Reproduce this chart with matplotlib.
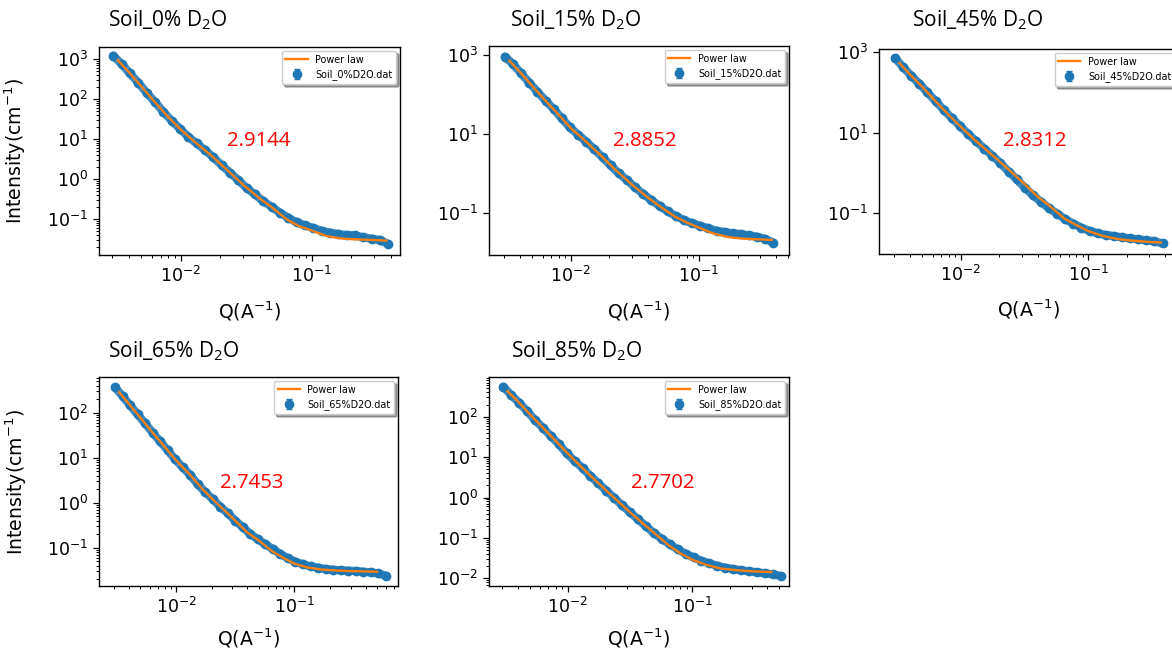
import numpy as np
import matplotlib.pyplot as plt
from matplotlib.ticker import LogLocator, NullFormatter, NullLocator

# scattering vector (1/A), shared by the five data sets
Q = [0.003044, 0.003524, 0.004080, 0.004723, 0.005468, 0.006330, 0.007329,
     0.008484, 0.009822, 0.01137, 0.01316, 0.01524, 0.01764, 0.02043,
     0.02365, 0.02738, 0.03170, 0.03670, 0.04248, 0.04918, 0.05694,
     0.06592, 0.07631, 0.08835, 0.1023, 0.1184, 0.1371, 0.1587, 0.1838,
     0.2127, 0.2463, 0.2851, 0.3301, 0.3821, 0.4424, 0.5122, 0.5929]

# measured intensity (1/cm)
I_0 = [1211, 750, 438, 256, 144, 84.1, 48.2, 28.7, 18.1, 11.4, 7.79, 5.31,
       3.48, 2.24, 1.44, 0.944, 0.596, 0.414, 0.277, 0.203, 0.144, 0.108,
       0.0825, 0.0695, 0.0596, 0.0511, 0.0455, 0.0422, 0.0398, 0.0391,
       0.0348, 0.0322, 0.0299, 0.0237]
I_15 = [908, 592, 343, 199, 117, 69.4, 42.6, 24.5, 14.6, 9.51, 6.32, 4.04,
        2.53, 1.58, 0.993, 0.673, 0.438, 0.297, 0.209, 0.147, 0.108, 0.0820,
        0.0650, 0.0535, 0.0467, 0.0399, 0.0348, 0.0322, 0.0298, 0.0286,
        0.0265, 0.0245, 0.0214, 0.0173]
I_45 = [723, 430, 262, 165, 100, 60.9, 36.9, 22.9, 14.7, 9.28, 6.09, 3.99,
        2.67, 1.72, 1.06, 0.683, 0.423, 0.272, 0.185, 0.128, 0.0946, 0.0682,
        0.0532, 0.0423, 0.0349, 0.0305, 0.0277, 0.0261, 0.0242, 0.0228,
        0.0216, 0.0204, 0.0192, 0.0171]
I_65 = [366, 235, 146, 92.0, 58.1, 36.0, 23.1, 14.6, 9.20, 6.11, 4.13, 2.56,
        1.73, 1.19, 0.817, 0.581, 0.399, 0.284, 0.202, 0.153, 0.119, 0.0935,
        0.0725, 0.0581, 0.0490, 0.0427, 0.0385, 0.0360, 0.0336, 0.0325,
        0.0314, 0.0309, 0.0304, 0.0293, 0.0284, 0.0269, 0.0239]
I_85 = [554, 344, 222, 138, 82.8, 53.5, 33.3, 21.1, 12.4, 8.01, 5.37, 3.41,
        2.24, 1.48, 0.972, 0.640, 0.430, 0.288, 0.193, 0.132, 0.0939, 0.0693,
        0.0521, 0.0407, 0.0330, 0.0273, 0.0235, 0.0205, 0.0183, 0.0170,
        0.0157, 0.0149, 0.0141, 0.0133, 0.0125, 0.0114]

# power law fit curves
QF = [0.0033, 0.004, 0.005, 0.0065, 0.008, 0.01, 0.013, 0.017, 0.022, 0.03,
      0.04, 0.05, 0.065, 0.08, 0.1, 0.13, 0.17, 0.22, 0.3, 0.37, 0.43, 0.5]
F_0 = [933, 473, 204, 75.9, 35.5, 17.0, 8.04, 3.89, 1.80, 0.708, 0.324,
       0.190, 0.0955, 0.0661, 0.0513, 0.0372, 0.0324, 0.0309, 0.0299, 0.0288]
F_15 = [713, 370, 162, 63.1, 30.7, 13.8, 6.53, 2.88, 1.26, 0.513, 0.240,
        0.141, 0.0794, 0.0562, 0.0417, 0.0295, 0.0240, 0.0219, 0.0209, 0.0204]
F_45 = [540, 281, 136, 55.3, 27.8, 13.8, 6.31, 3.02, 1.48, 0.603, 0.251,
        0.145, 0.0708, 0.0495, 0.0347, 0.0263, 0.0219, 0.0200, 0.0186, 0.0180]
F_65 = [285, 156, 76.9, 33.1, 17.6, 8.71, 4.27, 1.92, 0.986, 0.459, 0.219,
        0.145, 0.0832, 0.0603, 0.0442, 0.0363, 0.0327, 0.0313, 0.0302, 0.0299,
        0.0295, 0.0293]
F_85 = [424, 237, 113, 49.0, 25.4, 12.3, 5.56, 2.51, 1.20, 0.499, 0.229,
        0.129, 0.0646, 0.0417, 0.0288, 0.0214, 0.0174, 0.0160, 0.0149, 0.0145,
        0.0143]

D2O = ["0%", "15%", "45%", "65%", "85%"]
EXPONENTS = ["2.9144", "2.8852", "2.8312", "2.7453", "2.7702"]
DATA = [I_0, I_15, I_45, I_65, I_85]
FITS = [F_0, F_15, F_45, F_65, F_85]

W, H = 1172, 651
BLUE = "#1f77b4"
ORANGE = "#ff7f0e"

# layout in pixels: axes box, limits, y decades, title and number anchors
boxes = [(99, 47, 400, 255), (489, 46, 789, 255), (879, 49, 1179, 254),
         (99, 377, 398, 586), (489, 377, 789, 586)]
xlims = [(0.00237, 0.47), (0.00229, 0.505), (0.00228, 0.514),
         (0.00223, 0.753), (0.00234, 0.596)]
ylims = [(0.0126, 1995), (0.00843, 1692), (0.0093, 1216),
         (0.0141, 621), (0.00645, 961)]
ydecades = [[-1, 0, 1, 2, 3], [-1, 1, 3], [-1, 1, 3], [-1, 0, 1, 2],
            [-2, -1, 0, 1, 2]]
yminor = [True, False, False, True, True]
title_xy = [(108, 26), (510, 26), (912, 26), (108, 357), (511, 357)]
num_xy = [(259, 146), (645, 146), (1035, 146), (252, 488), (663, 488)]

fig = plt.figure(figsize=(W / 100, H / 100), dpi=100)

for i in range(5):
    x0, y0, x1, y1 = boxes[i]
    ax = fig.add_axes([x0 / W, 1 - y1 / H, (x1 - x0) / W, (y1 - y0) / H])
    I = DATA[i]
    q = Q[:len(I)]
    F = FITS[i]
    qf = QF[:len(F)]

    # dense measured points read as a thick dotted band
    ax.plot(q, I, color=BLUE, lw=6, alpha=0.85, solid_capstyle="round",
            label="_nolegend_")
    ax.plot(qf, F, color=ORANGE, lw=1.7, label="Power law", zorder=4)
    ax.errorbar(q, I, yerr=0, fmt="o", ms=6, color=BLUE, capsize=2,
                elinewidth=1, label=f"Soil_{D2O[i]}D2O.dat", zorder=3)

    ax.set_xscale("log")
    ax.set_yscale("log")
    ax.set_xlim(*xlims[i])
    ax.set_ylim(*ylims[i])
    ax.set_yticks([10.0 ** d for d in ydecades[i]])
    if yminor[i]:
        ax.yaxis.set_minor_locator(LogLocator(base=10, subs=np.arange(2, 10),
                                              numticks=100))
    else:
        ax.yaxis.set_minor_locator(NullLocator())
    ax.yaxis.set_minor_formatter(NullFormatter())
    ax.xaxis.set_minor_formatter(NullFormatter())
    ax.tick_params(which="major", labelsize=12.5, length=4.5, width=0.9)
    ax.tick_params(which="minor", length=2.5, width=0.7)
    for s in ax.spines.values():
        s.set_linewidth(1.0)

    ax.set_xlabel("Q(A$^{-1}$)", fontsize=13.6)
    ax.xaxis.set_label_coords(0.5, -0.212 if i < 3 else -0.196)
    if i in (0, 3):
        ax.set_ylabel("Intensity(cm$^{-1}$)", fontsize=13.6)
        ax.yaxis.set_label_coords(-0.235, 0.5)

    ax.legend(loc="upper right", fontsize=6.9, shadow=True, handlelength=2.3,
              borderaxespad=0.4)

    tx, ty = title_xy[i]
    fig.text(tx / W, 1 - ty / H, f"Soil_{D2O[i]} D$_\\mathregular{{2}}$O",
             fontsize=15, family="Open Sans", ha="left", va="baseline")
    nx, ny = num_xy[i]
    fig.text(nx / W, 1 - ny / H, EXPONENTS[i], color="red", fontsize=14.7,
             family="Open Sans", ha="center", va="baseline")

fig.savefig("out.png", dpi=100)
